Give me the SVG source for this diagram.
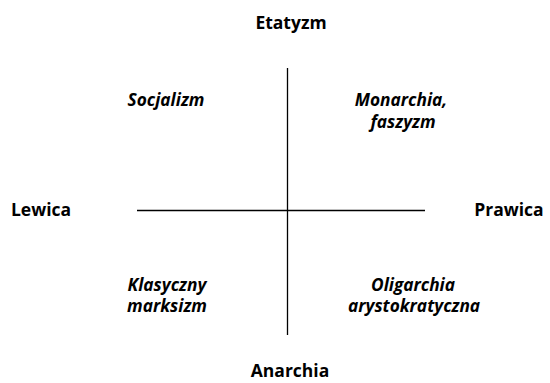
<svg xmlns="http://www.w3.org/2000/svg" width="550" height="383" viewBox="0 0 550 383">
<style>
.ax{font-family:"Open Sans","Noto Sans",sans-serif;font-weight:bold;font-size:17.5px;fill:#000;text-anchor:middle}
.q{font-family:"Open Sans","Noto Sans",sans-serif;font-weight:bold;font-style:italic;font-size:17.3px;fill:#000;text-anchor:middle}
.ln{stroke:#000;stroke-width:1.3;fill:none}
</style>
<rect width="550" height="383" fill="#fff"/>
<g id="connectors">
<line class="ln" x1="287.5" y1="68" x2="287.5" y2="335"/>
<line class="ln" x1="137" y1="210.5" x2="425" y2="210.5"/>
</g>
<g id="etatyzm"><text class="ax" x="291" y="29">Etatyzm</text></g>
<g id="lewica"><text class="ax" x="41" y="216">Lewica</text></g>
<g id="prawica"><text class="ax" x="509" y="216">Prawica</text></g>
<g id="anarchia"><text class="ax" x="290" y="377">Anarchia</text></g>
<g id="socjalizm"><text class="q" x="166" y="106">Socjalizm</text></g>
<g id="monarchia"><text class="q" x="401" y="106">Monarchia,</text><text class="q" x="403" y="128">faszyzm</text></g>
<g id="klasyczny"><text class="q" x="167" y="291">Klasyczny</text><text class="q" x="167" y="312">marksizm</text></g>
<g id="oligarchia"><text class="q" x="413" y="291">Oligarchia</text><text class="q" x="414" y="312">arystokratyczna</text></g>
</svg>
